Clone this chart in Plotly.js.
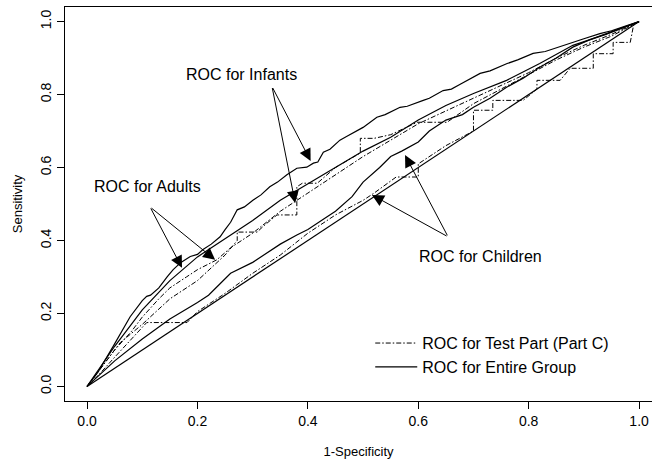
<!DOCTYPE html>
<html>
<head>
<meta charset="utf-8">
<script src="https://cdn.plot.ly/plotly-3.0.1.min.js"></script>
<style>html,body{margin:0;padding:0;background:#fff;}</style>
</head>
<body>
<div id="chart" style="width:652px;height:464px;"></div>
<script>
// ---- data ----
const infantsEntireX = [0,0.02,0.047,0.078,0.10,0.108,0.115,0.13,0.145,0.156,0.17,0.187,0.20,0.21,0.225,0.241,0.25,0.26,0.272,0.285,0.301,0.315,0.331,0.345,0.362,0.38,0.398,0.41,0.418,0.428,0.44,0.458,0.47,0.489,0.50,0.525,0.54,0.567,0.58,0.609,0.62,0.645,0.66,0.676,0.69,0.712,0.73,0.761,0.78,0.808,0.83,0.851,0.880,0.90,0.929,0.95,0.978,1];
const infantsEntireY = [0,0.04,0.109,0.191,0.235,0.247,0.25,0.27,0.30,0.32,0.34,0.356,0.362,0.375,0.39,0.41,0.43,0.45,0.484,0.492,0.511,0.525,0.547,0.56,0.58,0.598,0.601,0.612,0.615,0.642,0.65,0.675,0.685,0.702,0.71,0.738,0.745,0.765,0.768,0.784,0.79,0.811,0.815,0.828,0.84,0.858,0.865,0.885,0.895,0.913,0.918,0.929,0.943,0.953,0.967,0.975,0.989,1];

const adultsEntireX = [0,0.02,0.05,0.10,0.15,0.20,0.25,0.30,0.35,0.40,0.45,0.50,0.55,0.60,0.65,0.70,0.76,0.82,0.88,0.94,0.99,1];
const adultsEntireY = [0,0.045,0.11,0.21,0.29,0.355,0.405,0.455,0.51,0.555,0.60,0.645,0.683,0.73,0.77,0.803,0.839,0.885,0.935,0.965,0.994,1];

const childrenEntireX = [0,0.05,0.10,0.15,0.20,0.22,0.24,0.26,0.30,0.33,0.35,0.38,0.40,0.43,0.45,0.48,0.50,0.53,0.55,0.57,0.60,0.62,0.65,0.68,0.70,0.73,0.76,0.79,0.82,0.85,0.88,0.91,0.94,0.97,1];
const childrenEntireY = [0,0.07,0.13,0.185,0.23,0.25,0.28,0.31,0.34,0.37,0.39,0.415,0.43,0.46,0.48,0.52,0.56,0.60,0.63,0.645,0.67,0.70,0.73,0.745,0.765,0.79,0.82,0.845,0.875,0.90,0.93,0.95,0.967,0.985,1];

const adultsTestX = [0,0.03,0.05,0.08,0.10,0.13,0.15,0.18,0.20,0.235,0.26,0.30,0.35,0.40,0.45,0.50,0.55,0.60,0.65,0.70,0.75,0.80,0.85,0.90,0.95,1];
const adultsTestY = [0,0.06,0.10,0.15,0.19,0.24,0.27,0.30,0.32,0.347,0.38,0.42,0.48,0.53,0.58,0.63,0.675,0.72,0.755,0.79,0.825,0.86,0.90,0.935,0.965,1];

const infantsTestX = [0,0.03,0.06,0.10,0.15,0.20,0.25,0.272,0.272,0.308,0.32,0.344,0.38,0.38,0.39,0.417,0.45,0.495,0.495,0.52,0.55,0.598,0.652,0.70,0.75,0.80,0.85,0.90,0.95,1];
const infantsTestY = [0,0.06,0.12,0.17,0.24,0.29,0.36,0.40,0.423,0.423,0.44,0.47,0.47,0.547,0.557,0.557,0.60,0.64,0.68,0.68,0.69,0.724,0.724,0.775,0.815,0.855,0.895,0.93,0.96,1];

const childrenTestX = [0,0.02,0.05,0.08,0.108,0.181,0.20,0.25,0.30,0.35,0.40,0.45,0.50,0.52,0.56,0.60,0.60,0.65,0.70,0.70,0.735,0.735,0.79,0.815,0.815,0.857,0.875,0.917,0.917,0.953,0.953,0.984,0.99,1];
const childrenTestY = [0,0.03,0.08,0.13,0.175,0.175,0.205,0.255,0.31,0.36,0.42,0.47,0.51,0.53,0.574,0.574,0.61,0.66,0.70,0.757,0.757,0.784,0.784,0.815,0.839,0.839,0.872,0.872,0.912,0.912,0.943,0.943,0.99,1];

const diagX = [0,1];
const diagY = [0,1];

const xTicks = [0,0.2,0.4,0.6,0.8,1.0];
const xTickText = ['0.0','0.2','0.4','0.6','0.8','1.0'];
const yTicks = [0,0.2,0.4,0.6,0.8,1.0];
const yTickText = ['0.0','0.2','0.4','0.6','0.8','1.0'];

const legendTest = 'ROC for Test Part (Part C)';
const legendEntire = 'ROC for Entire Group';

// ---- chart ----
const solid = {color:'#000', width:1.2};
const dashdot = {color:'#000', width:1, dash:'5px,2px,1.5px,2px'};
function tr(x,y,line,name,show,group){
  return {x:x,y:y,type:'scatter',mode:'lines',line:line,name:name||'',showlegend:!!show,legendgroup:group,hoverinfo:'skip'};
}
const traces = [
  tr(infantsTestX, infantsTestY, dashdot, legendTest, true, 'test'),
  tr(adultsTestX, adultsTestY, dashdot, legendTest, false, 'test'),
  tr(childrenTestX, childrenTestY, dashdot, legendTest, false, 'test'),
  tr(infantsEntireX, infantsEntireY, solid, legendEntire, true, 'entire'),
  tr(adultsEntireX, adultsEntireY, solid, legendEntire, false, 'entire'),
  tr(childrenEntireX, childrenEntireY, solid, legendEntire, false, 'entire'),
  tr(diagX, diagY, solid, '', false, 'diag')
];

const font = 'Liberation Sans, Arial, Helvetica, sans-serif';
function label(text,x,y){
  return {text:text,x:x,y:y,xref:'x',yref:'y',showarrow:false,font:{family:font,size:16,color:'#000'}};
}
function arrow(x0,y0,x1,y1){
  return {text:'',x:x1,y:y1,ax:x0,ay:y0,xref:'x',yref:'y',axref:'x',ayref:'y',showarrow:true,arrowhead:2,arrowsize:2.4,arrowwidth:1,arrowcolor:'#000'};
}

const layout = {
  width:652, height:464,
  margin:{l:65,r:0,t:7,b:63},
  paper_bgcolor:'#fff', plot_bgcolor:'#fff',
  font:{family:font,color:'#000',size:14},
  showlegend:true,
  legend:{x:0.52,y:0.19,xanchor:'left',yanchor:'top',bgcolor:'rgba(0,0,0,0)',font:{family:font,size:16,color:'#000'},tracegroupgap:0,itemwidth:42},
  xaxis:{range:[-0.04,1.0234],tickvals:xTicks,ticktext:xTickText,showgrid:false,zeroline:false,showline:true,mirror:true,linecolor:'#000',linewidth:1.2,ticks:'outside',ticklen:7,tickcolor:'#000',tickfont:{family:font,size:14},
    title:{text:'1-Specificity',font:{family:font,size:13},standoff:18}},
  yaxis:{range:[-0.04,1.04],tickvals:yTicks,ticktext:yTickText,tickangle:-90,showgrid:false,zeroline:false,showline:true,mirror:false,linecolor:'#000',linewidth:1.2,ticks:'outside',ticklen:7,tickcolor:'#000',tickfont:{family:font,size:14},
    title:{text:'Sensitivity',font:{family:font,size:13},standoff:12}},
  annotations:[
    label('ROC for Infants',0.279,0.855),
    arrow(0.335,0.822,0.405,0.618),
    arrow(0.335,0.822,0.377,0.503),
    label('ROC for Adults',0.110,0.549),
    arrow(0.114,0.492,0.172,0.325),
    arrow(0.114,0.492,0.232,0.347),
    label('ROC for Children',0.712,0.355),
    arrow(0.654,0.41,0.576,0.634),
    arrow(0.654,0.41,0.516,0.525)
  ]
};
Plotly.newPlot('chart',traces,layout,{displayModeBar:false,staticPlot:true});
</script>
</body>
</html>
